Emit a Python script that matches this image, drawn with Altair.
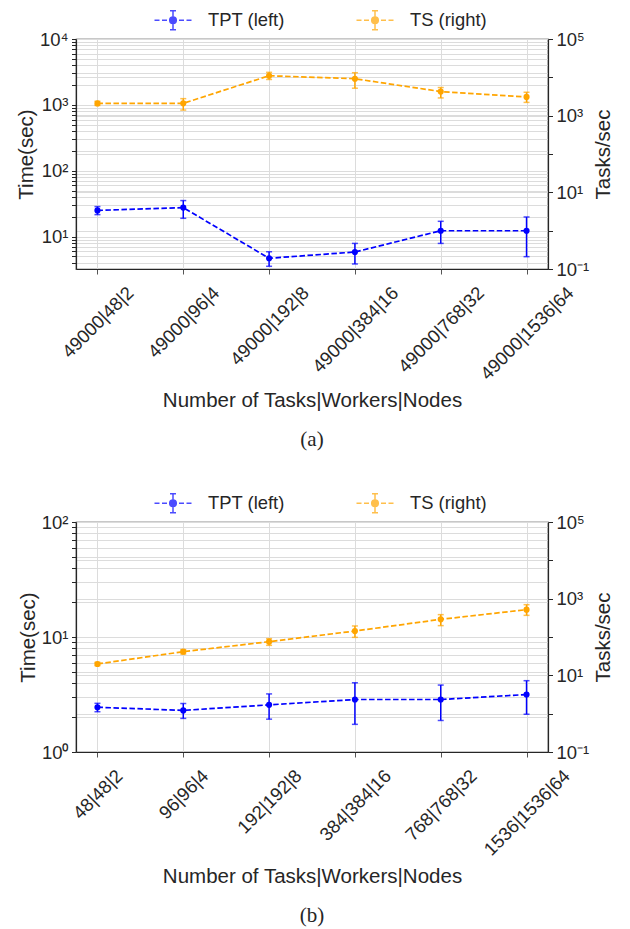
import altair as alt
import pandas as pd

SERIES = ["TPT (left)", "TS (right)"]
COLORS = ["#0000ff", "#ffa500"]

# ---- panel (a) ----
cats_a = ["49000|48|2", "49000|96|4", "49000|192|8", "49000|384|16", "49000|768|32", "49000|1536|64"]
tpt_a = [25.0, 27.6, 4.7, 5.85, 12.3, 12.3]
tpt_a_lo = [21.6, 19.0, 3.55, 3.85, 7.9, 4.97]
tpt_a_hi = [28.6, 35.3, 5.9, 7.9, 17.1, 19.9]
ts_a = [2090, 2100, 11000, 9200, 4250, 3080]
ts_a_lo = [1850, 1400, 8800, 5200, 2900, 2220]
ts_a_hi = [2370, 2780, 13500, 13200, 5420, 4080]

# ---- panel (b) ----
cats_b = ["48|48|2", "96|96|4", "192|192|8", "384|384|16", "768|768|32", "1536|1536|64"]
tpt_b = [2.45, 2.30, 2.57, 2.86, 2.86, 3.16]
tpt_b_lo = [2.24, 1.96, 1.93, 1.74, 1.88, 2.13]
tpt_b_hi = [2.65, 2.64, 3.20, 4.00, 3.82, 4.17]
ts_b = [19.8, 41.4, 75.5, 143, 289, 516]
ts_b_lo = [17.9, 36.0, 60.6, 98, 198, 367]
ts_b_hi = [21.8, 46.8, 90.5, 194, 383, 697]

TEXT = "#262626"
SANS = "Liberation Sans"
FS = 18.5
TFS = 20.5
W, H = 472, 230
XTICK = 5
XLP = 9.5

SUP = str.maketrans("-0123456789", "⁻⁰¹²³⁴⁵⁶⁷⁸⁹")


def dec_label(e):
    return "10" + str(e).translate(SUP)


def num(v):
    return repr(float(v))


def log_axis(domain, lab_exps, minors, title, orient, tpad):
    lo, hi = domain
    vals = []
    for e in range(-2, 7):
        for m in (range(1, 10) if minors else [1]):
            v = float(m * 10.0 ** e) if e >= 0 else float(m) / (10 ** -e)
            v = float(f"{v:.6g}")
            if lo * 0.9999 <= v <= hi * 1.0001:
                vals.append(v)
    expr = ""
    for e in lab_exps:
        v = float(f"{10.0 ** e:.6g}")
        expr += f"datum.value == {num(v)} ? '{dec_label(e)}' : "
    expr += "''"
    kw = {}
    if orient == "right":
        kw["titleBaseline"] = "top"
    return alt.Axis(
        values=vals,
        labelExpr=expr,
        title=title,
        orient=orient,
        tickSize=4.5,
        titleAngle=270,
        titlePadding=tpad,
        labelPadding=3.5,
        labelFlush=False,
        labelOverlap=False,
        grid=True,
        **kw,
    )


def lab_shift(s):
    # horizontal shift so the rotated label is centred under its tick
    L = sum(0.556 * FS if c.isdigit() else 0.26 * FS for c in s)
    d = 0.354 * (L - 0.9 * FS)
    return round(d * 0.7071, 2)


def panel(cats, tpt, tlo, thi, ts, slo, shi, left_domain, left_exps, caption):
    rows = []
    for i, c in enumerate(cats):
        rows.append({"series": SERIES[0], "cat": c, "value": tpt[i], "lo": tlo[i], "hi": thi[i]})
        rows.append({"series": SERIES[1], "cat": c, "value": ts[i], "lo": slo[i], "hi": shi[i]})
    df = pd.DataFrame(rows)

    xaxis = alt.Axis(
        title="Number of Tasks|Workers|Nodes",
        labelAngle=-45,
        labelAlign="right",
        labelBaseline="top",
        labelOpacity=0,
        tickSize=XTICK,
        tickColor="#555555",
        labelPadding=XLP,
        titlePadding=7,
        grid=True,
    )
    xsc = alt.Scale(type="point", padding=0.25)
    x = alt.X("cat:N", sort=cats, scale=xsc, axis=xaxis)
    color = alt.Color(
        "series:N",
        scale=alt.Scale(domain=SERIES, range=COLORS),
        legend=alt.Legend(
            title=None,
            orient="none",
            direction="horizontal",
            legendX=86,
            legendY=-30,
            padding=0,
            labelOffset=24,
            columnPadding=68,
        ),
    )

    def side(name, domain, axis):
        base = alt.Chart(df).transform_filter(alt.datum.series == name)
        sc = alt.Scale(type="log", domain=domain)
        rule = base.mark_rule(strokeWidth=1.5).encode(
            x=x, y=alt.Y("lo:Q", scale=sc, axis=axis), y2="hi:Q", color=color
        )
        cap_lo = base.mark_tick(size=6, thickness=1.5).encode(
            x=x, y=alt.Y("lo:Q", scale=sc, axis=axis), color=color
        )
        cap_hi = base.mark_tick(size=6, thickness=1.5).encode(
            x=x, y=alt.Y("hi:Q", scale=sc, axis=axis), color=color
        )
        line = base.mark_line(strokeDash=[5.5, 2.5], strokeWidth=1.7).encode(
            x=x, y=alt.Y("value:Q", scale=sc, axis=axis), color=color
        )
        pts = base.mark_circle(size=38, opacity=1).encode(
            x=x, y=alt.Y("value:Q", scale=sc, axis=axis), color=color
        )
        return alt.layer(rule, cap_lo, cap_hi, line, pts)

    left_axis = log_axis(left_domain, left_exps, True, "Time(sec)", "left", 3)
    right_domain = (0.1, 100000)
    right_axis = log_axis(right_domain, [-1, 1, 3, 5], False, "Tasks/sec", "right", 5)

    label_layers = []
    for c in cats:
        s = lab_shift(c)
        label_layers.append(
            alt.Chart(pd.DataFrame({"cat": [c]}))
            .mark_text(
                angle=315,
                align="right",
                baseline="top",
                font=SANS,
                fontSize=FS,
                color=TEXT,
                dx=s,
                dy=s,
            )
            .encode(
                x=alt.X("cat:N", sort=cats, scale=xsc, axis=xaxis),
                y=alt.value(H + XTICK + XLP),
                text="cat:N",
            )
        )

    return (
        alt.layer(
            side(SERIES[0], list(left_domain), left_axis),
            side(SERIES[1], list(right_domain), right_axis),
            *label_layers,
        )
        .resolve_scale(y="independent")
        .properties(
            width=W,
            height=H,
            title=alt.TitleParams(
                caption,
                orient="bottom",
                anchor="middle",
                font="Liberation Serif",
                fontSize=21,
                fontWeight="normal",
                color=TEXT,
                offset=18,
            ),
        )
    )


pa = panel(cats_a, tpt_a, tpt_a_lo, tpt_a_hi, ts_a, ts_a_lo, ts_a_hi, (3.23, 10000), [1, 2, 3, 4], "(a)")
pb = panel(cats_b, tpt_b, tpt_b_lo, tpt_b_hi, ts_b, ts_b_lo, ts_b_hi, (1, 100), [0, 1, 2], "(b)")

legend_path = (
    "M-1.85,0L-1.35,0M-1.1,0L-0.6,0M-0.35,0L0.35,0M0.6,0L1.1,0M1.35,0L1.85,0"
    "M0,-0.95L0,0.95M-0.3,-0.95L0.3,-0.95M-0.3,0.95L0.3,0.95"
    "M0.33,0A0.33,0.33 0 1,1 -0.33,0A0.33,0.33 0 1,1 0.33,0Z"
)

chart = (
    alt.vconcat(pa, pb, spacing=40)
    .resolve_scale(color="independent")
    .resolve_legend(color="independent")
    .properties(padding={"left": 7, "top": 0, "right": 0, "bottom": 4})
    .configure_axis(
        labelFont=SANS,
        titleFont=SANS,
        labelFontSize=FS,
        titleFontSize=TFS,
        labelColor=TEXT,
        titleColor=TEXT,
        titleFontWeight="normal",
        domainColor=TEXT,
        domainWidth=1.2,
        tickColor=TEXT,
        tickWidth=1,
        gridColor="#dcdcdc",
        gridWidth=1,
    )
    .configure_view(stroke=TEXT, strokeWidth=1.2)
    .configure_legend(
        labelFont=SANS,
        labelFontSize=18.4,
        labelColor=TEXT,
        symbolType=legend_path,
        symbolSize=400,
        symbolStrokeWidth=1.5,
    )
)

chart.save("out.html", embed_options={"renderer": "svg", "actions": False})
